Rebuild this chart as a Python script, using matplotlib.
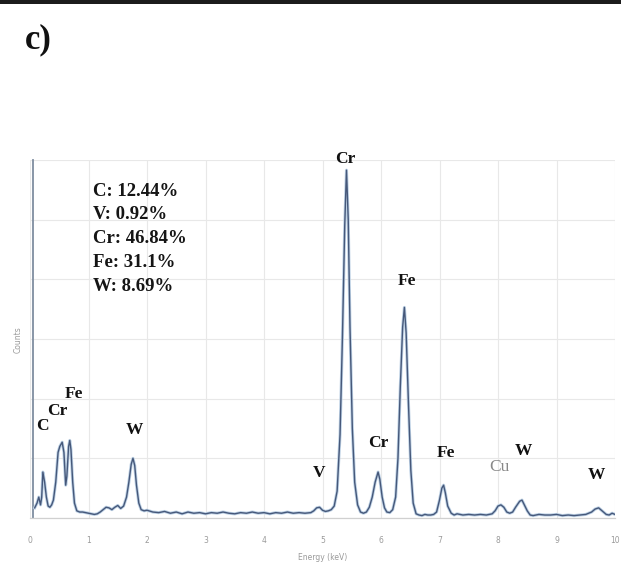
import matplotlib
matplotlib.use("Agg")
import matplotlib.pyplot as plt
from matplotlib.patches import Rectangle

# ---- data ----
energy_kev = [0.08, 0.12, 0.15, 0.18, 0.20, 0.22, 0.25, 0.28, 0.31, 0.34, 0.37, 0.40,
              0.44, 0.48, 0.51, 0.55, 0.58, 0.61, 0.63, 0.66, 0.68, 0.70, 0.73, 0.76,
              0.80, 0.85, 0.90, 0.95, 1.00, 1.05, 1.10, 1.15, 1.20, 1.25, 1.30, 1.35,
              1.40, 1.45, 1.50, 1.55, 1.60, 1.65, 1.69, 1.73, 1.76, 1.79, 1.82, 1.86,
              1.90, 1.95, 2.00, 2.10, 2.20, 2.30, 2.40, 2.50, 2.60, 2.70, 2.80, 2.90,
              3.00, 3.10, 3.20, 3.30, 3.40, 3.50, 3.60, 3.70, 3.80, 3.90, 4.00, 4.10,
              4.20, 4.30, 4.40, 4.50, 4.60, 4.70, 4.80, 4.85, 4.90, 4.95, 5.00, 5.05,
              5.10, 5.15, 5.20, 5.25, 5.30, 5.34, 5.38, 5.41, 5.44, 5.47, 5.51, 5.55,
              5.60, 5.65, 5.70, 5.75, 5.80, 5.85, 5.90, 5.95, 5.98, 6.02, 6.06, 6.10,
              6.15, 6.20, 6.25, 6.29, 6.33, 6.37, 6.40, 6.43, 6.47, 6.51, 6.55, 6.60,
              6.65, 6.70, 6.75, 6.80, 6.85, 6.90, 6.95, 7.00, 7.04, 7.07, 7.10, 7.14,
              7.20, 7.25, 7.30, 7.40, 7.50, 7.60, 7.70, 7.80, 7.90, 7.95, 8.00, 8.05,
              8.10, 8.15, 8.20, 8.25, 8.30, 8.37, 8.41, 8.45, 8.50, 8.55, 8.60, 8.70,
              8.80, 8.90, 9.00, 9.10, 9.20, 9.30, 9.40, 9.50, 9.60, 9.66, 9.72, 9.78,
              9.85, 9.90, 9.95, 10.00]
counts = [0.17, 0.25, 0.35, 0.22, 0.35, 0.77, 0.60, 0.35, 0.20, 0.18, 0.22, 0.30,
          0.60, 1.10, 1.20, 1.27, 1.10, 0.55, 0.70, 1.20, 1.30, 1.15, 0.60, 0.25,
          0.12, 0.10, 0.10, 0.09, 0.08, 0.07, 0.06, 0.07, 0.10, 0.14, 0.18, 0.17,
          0.14, 0.18, 0.21, 0.16, 0.20, 0.35, 0.60, 0.90, 1.00, 0.88, 0.55, 0.25,
          0.14, 0.12, 0.13, 0.10, 0.09, 0.11, 0.08, 0.10, 0.07, 0.10, 0.08, 0.09,
          0.07, 0.09, 0.08, 0.10, 0.08, 0.07, 0.09, 0.08, 0.10, 0.08, 0.09, 0.07,
          0.09, 0.08, 0.10, 0.08, 0.09, 0.08, 0.09, 0.12, 0.17, 0.18, 0.13, 0.11,
          0.12, 0.14, 0.20, 0.45, 1.40, 3.00, 4.90, 5.83, 5.00, 3.20, 1.50, 0.60,
          0.22, 0.10, 0.08, 0.10, 0.18, 0.35, 0.60, 0.77, 0.65, 0.35, 0.17, 0.10,
          0.09, 0.14, 0.35, 1.00, 2.20, 3.20, 3.53, 3.10, 1.90, 0.80, 0.25, 0.07,
          0.05, 0.04, 0.06, 0.05, 0.05, 0.06, 0.10, 0.30, 0.50, 0.55, 0.42, 0.20,
          0.08, 0.05, 0.07, 0.05, 0.06, 0.05, 0.06, 0.05, 0.07, 0.12, 0.20, 0.22,
          0.18, 0.10, 0.08, 0.10, 0.18, 0.28, 0.30, 0.22, 0.12, 0.05, 0.04, 0.06,
          0.05, 0.05, 0.06, 0.04, 0.05, 0.04, 0.05, 0.06, 0.10, 0.15, 0.17, 0.12,
          0.06, 0.05, 0.08, 0.06]

composition_lines = ["C: 12.44%", "V: 0.92%", "Cr: 46.84%", "Fe: 31.1%", "W: 8.69%"]

peak_labels = ["C", "Cr", "Fe", "W", "V", "Cr", "Fe", "Cr", "Fe", "Cu", "W", "W"]
label_x = [0.21, 0.46, 0.75, 1.78, 4.94, 5.39, 6.44, 5.95, 7.11, 8.03, 8.43, 9.69]
label_y = [1.54, 1.80, 2.07, 1.47, 0.76, 6.01, 3.97, 1.26, 1.09, 0.86, 1.12, 0.72]
label_colors = ["#111111"] * 9 + ["#888888", "#111111", "#111111"]
label_weights = ["bold"] * 9 + ["normal", "bold", "bold"]

x_ticks = list(range(0, 11))

# ---- figure ----
W, H = 621, 562
fig = plt.figure(figsize=(W / 100, H / 100), dpi=100)
fig.patch.set_facecolor("white")

# dark bar at very top of the image
fig.patches.append(Rectangle((0, 1 - 4 / H), 1, 4 / H, transform=fig.transFigure,
                             facecolor="#1c1c1c", edgecolor="none"))

fig.text(38 / W, 1 - 40 / H, "c)", fontsize=25, fontweight="bold",
         family="Liberation Serif", ha="center", va="center", color="#111111")

ax = fig.add_axes([30 / W, 44 / H, 585 / W, 358 / H])
ax.set_xlim(0, 10)
ax.set_ylim(0, 6)

ax.plot(energy_kev, counts, color="#bcd0e4", lw=2.2, solid_joinstyle="round", zorder=3)
ax.plot(energy_kev, counts, color="#46587a", lw=1.0, solid_joinstyle="round", zorder=4)

ax.set_xticks(x_ticks)
ax.set_xticklabels([str(t) for t in x_ticks])
ax.set_yticks(range(0, 7))
ax.set_yticklabels([])
ax.tick_params(axis="both", length=0, labelsize=5.5, colors="#9a9a9a", pad=13)
ax.grid(True, color="#e8e8e8", lw=0.8, zorder=0)

for s in ["top", "right"]:
    ax.spines[s].set_visible(False)
ax.spines["bottom"].set_color("#d0d0d0")
ax.spines["bottom"].set_linewidth(0.9)
ax.spines["left"].set_position(("data", 0.05))
ax.spines["left"].set_color("#7f8ea0")
ax.spines["left"].set_linewidth(1.3)

ax.set_xlabel("Energy (keV)", fontsize=5.5, color="#9a9a9a", labelpad=6)
fig.text(18 / W, 1 - 340 / H, "Counts", fontsize=5.5, color="#9a9a9a",
         rotation=90, ha="center", va="center")

ax.text(1.08, 5.62, "\n".join(composition_lines), fontsize=13.5, fontweight="bold",
        family="Liberation Serif", color="#151515", va="top", ha="left",
        linespacing=1.52, zorder=5)

for t, x, y, c, w in zip(peak_labels, label_x, label_y, label_colors, label_weights):
    ax.text(x, y, t, fontsize=12.5, fontweight=w, family="Liberation Serif",
            color=c, ha="center", va="center", zorder=5)

fig.savefig("out.png", dpi=100)
